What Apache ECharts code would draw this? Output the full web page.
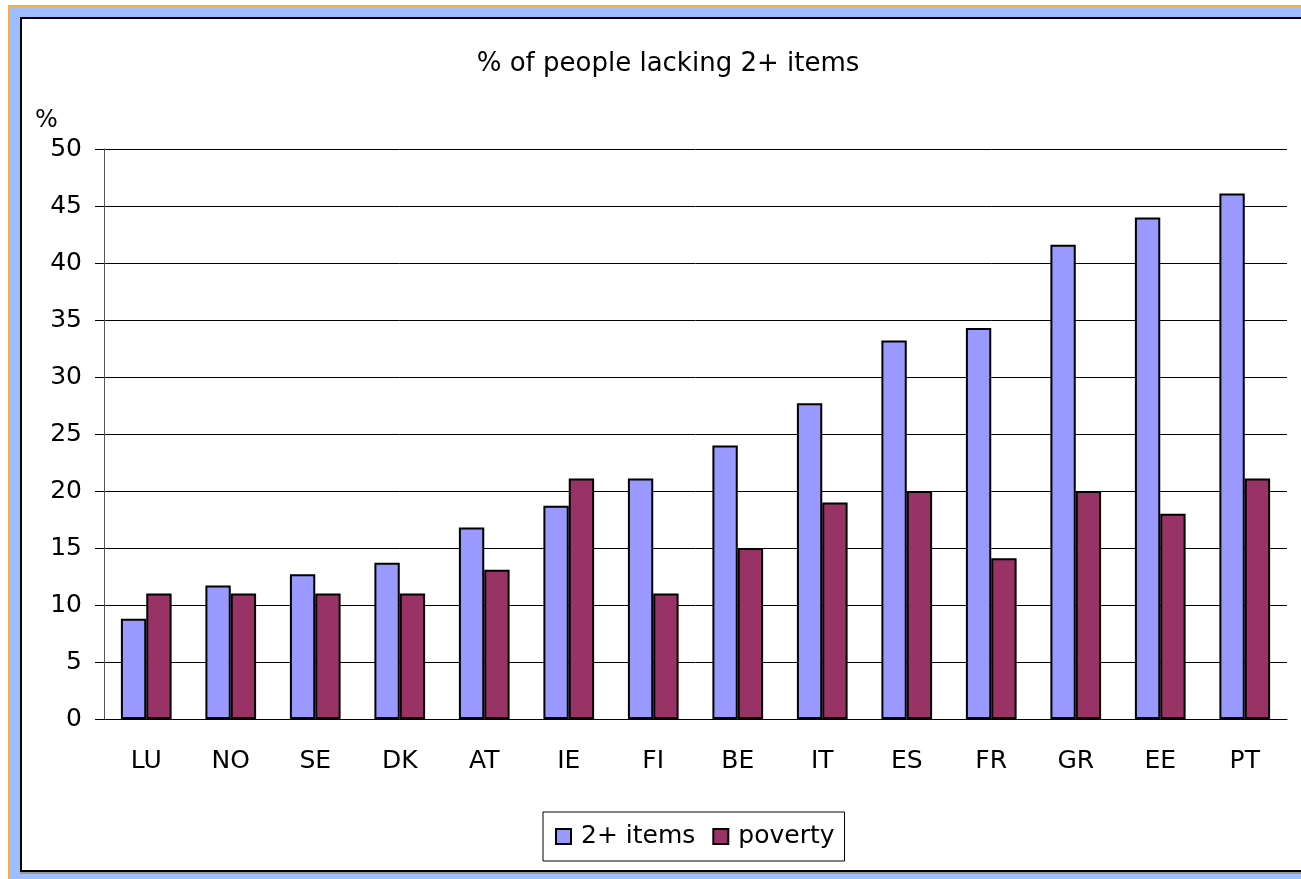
<!DOCTYPE html>
<html>
<head>
<meta charset="utf-8">
<script src="https://cdn.jsdelivr.net/npm/echarts@6/dist/echarts.min.js"></script>
<style>
html,body{margin:0;padding:0;width:1301px;height:879px;overflow:hidden;background:#fff;}
#orange{position:absolute;left:8px;top:5px;width:1400px;height:900px;background:#FFAA33;}
#blue{position:absolute;left:9px;top:7px;width:1400px;height:900px;background:#9DBEFF;}
#frame{position:absolute;left:20px;top:17px;width:1400px;height:851px;background:#fff;border:2px solid #000;box-shadow:0 2px 0 #999;}
#chart{position:absolute;left:0;top:0;width:1301px;height:879px;}
</style>
</head>
<body>
<div id="orange"></div><div id="blue"></div><div id="frame"></div>
<div id="chart"></div>
<script>
const categories = ['LU','NO','SE','DK','AT','IE','FI','BE','IT','ES','FR','GR','EE','PT'];
const items2plus = [8.8, 11.7, 12.7, 13.7, 16.8, 18.7, 21.1, 24.0, 27.7, 33.2, 34.3, 41.6, 44.0, 46.1];
const poverty = [11, 11, 11, 11, 13.1, 21.1, 11, 15, 19, 20, 14.1, 20, 18, 21.1];
const yTicks = [0, 5, 10, 15, 20, 25, 30, 35, 40, 45, 50];

const chart = echarts.init(document.getElementById('chart'), null, {renderer: 'canvas'});
const font = 'DejaVu Sans, sans-serif';
chart.setOption({
  backgroundColor: 'transparent',
  animation: false,
  textStyle: {fontFamily: font, color: '#000'},
  title: [
    {text: '% of people lacking 2+ items', left: 663, top: 46, textAlign: 'center',
     textStyle: {fontFamily: font, fontSize: 26, fontWeight: 'normal', color: '#000'}},
    {text: '%', left: 30, top: 104,
     textStyle: {fontFamily: font, fontSize: 24, fontWeight: 'normal', color: '#000'}}
  ],
  legend: {
    left: 543, top: 812,
    data: ['2+ items', 'poverty'],
    icon: 'rect', itemWidth: 15, itemHeight: 15, itemGap: 17,
    borderColor: '#000', borderWidth: 1, padding: [12, 10, 12, 12],
    itemStyle: {borderColor: '#000', borderWidth: 2},
    textStyle: {fontFamily: font, fontSize: 25, color: '#000', padding: [0, 0, 0, 5]}
  },
  grid: {left: 104, right: 14, top: 149, bottom: 160, containLabel: false},
  xAxis: {
    type: 'category', data: categories,
    axisLine: {lineStyle: {color: '#000', width: 1}},
    axisTick: {length: 8, lineStyle: {color: '#000'}},
    axisLabel: {fontFamily: font, fontSize: 25, color: '#000', margin: 30}
  },
  yAxis: {
    type: 'value', min: 0, max: 50, interval: 5,
    axisLine: {show: true, lineStyle: {color: '#555', width: 1}},
    axisTick: {show: true, length: 9, lineStyle: {color: '#000'}},
    axisLabel: {fontFamily: font, fontSize: 25, color: '#000', margin: 22,
      formatter: v => yTicks.includes(v) ? String(v) : ''},
    splitLine: {lineStyle: {color: '#000', width: 1}}
  },
  series: [
    {name: '2+ items', type: 'bar', data: items2plus, barGap: '0%', barCategoryGap: '40%',
     itemStyle: {color: '#9999FF', borderColor: '#000', borderWidth: 2}},
    {name: 'poverty', type: 'bar', data: poverty,
     itemStyle: {color: '#993366', borderColor: '#000', borderWidth: 2}}
  ]
});
</script>
</body>
</html>
